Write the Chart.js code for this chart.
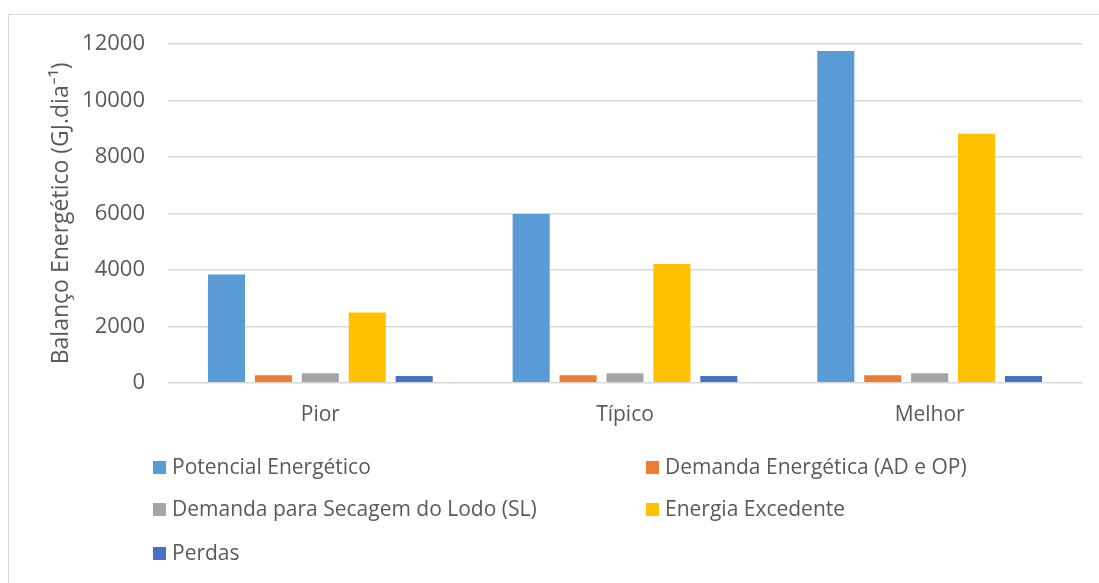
<!DOCTYPE html>
<html>
<head>
<meta charset="utf-8">
<script src="https://cdn.jsdelivr.net/npm/chart.js@4/dist/chart.umd.min.js"></script>
<style>
  html, body { margin: 0; padding: 0; background: #fff; }
  #frame { position: absolute; left: 8px; top: 14px; width: 1095px; height: 575px; border: 1px solid #d9d9d9; box-sizing: border-box; }
  #wrap { position: absolute; left: 0; top: 0; width: 1099px; height: 583px; }
  .leg { position: absolute; font-family: "Open Sans", sans-serif; font-size: 21px; color: #595959; white-space: nowrap; line-height: 22px; }
  .leg i { display: inline-block; width: 13px; height: 13px; margin-right: 6px; vertical-align: 0px; }
</style>
</head>
<body>
<div id="frame"></div>
<div id="wrap"><canvas id="c" width="1099" height="583"></canvas></div>
<div id="legend"></div>
<script>
// dados
const categorias = ["Pior", "Típico", "Melhor"];
const series = [
  "Potencial Energético",
  "Demanda Energética (AD e OP)",
  "Demanda para Secagem do Lodo (SL)",
  "Energia Excedente",
  "Perdas"
];
const potencial = [3840, 5980, 11750];
const demandaAD = [265, 265, 265];
const demandaSL = [340, 340, 340];
const excedente = [2490, 4210, 8820];
const perdas = [245, 245, 245];
const cores = ["#5B9BD5", "#ED7D31", "#A5A5A5", "#FFC000", "#4472C4"];
const yTicks = [0, 2000, 4000, 6000, 8000, 10000, 12000];

const valores = [potencial, demandaAD, demandaSL, excedente, perdas];
const fonte = "'Open Sans', sans-serif";
const cinza = "#595959";

const ctx = document.getElementById('c').getContext('2d');
new Chart(ctx, {
  type: 'bar',
  data: {
    labels: categorias,
    datasets: series.map((s, i) => ({
      label: s,
      data: valores[i],
      backgroundColor: cores[i],
      categoryPercentage: 0.77,
      barPercentage: 0.79
    }))
  },
  options: {
    responsive: false,
    animation: false,
    layout: { padding: { left: 48, top: 44, right: 17, bottom: 143 } },
    plugins: {
      legend: { display: false },
      tooltip: { enabled: false }
    },
    scales: {
      x: {
        grid: { display: false },
        border: { display: false },
        ticks: { color: cinza, font: { family: fonte, size: 21 }, padding: 12 }
      },
      y: {
        min: 0,
        max: 12000,
        afterBuildTicks: (ax) => { ax.ticks = yTicks.map(v => ({ value: v })); },
        afterFit: (ax) => { ax.width = 120; },
        grid: { color: "#d9d9d9", lineWidth: 1.5, drawTicks: false },
        border: { display: false },
        ticks: {
          color: cinza, font: { family: fonte, size: 22 }, padding: 23,
          callback: (v) => String(v)
        },
        title: {
          display: true,
          text: "Balanço Energético (GJ.dia⁻¹)",
          color: cinza,
          font: { family: fonte, size: 23 },
          padding: { top: 0, bottom: 6 }
        }
      }
    }
  }
});

// legenda em duas colunas
const posLeg = [[153, 455], [646, 455], [153, 497], [646, 497], [153, 541]];
const leg = document.getElementById('legend');
series.forEach((s, i) => {
  const d = document.createElement('div');
  d.className = 'leg';
  d.style.left = posLeg[i][0] + 'px';
  d.style.top = posLeg[i][1] + 'px';
  d.innerHTML = '<i style="background:' + cores[i] + '"></i>' + s;
  leg.appendChild(d);
});
</script>
</body>
</html>
